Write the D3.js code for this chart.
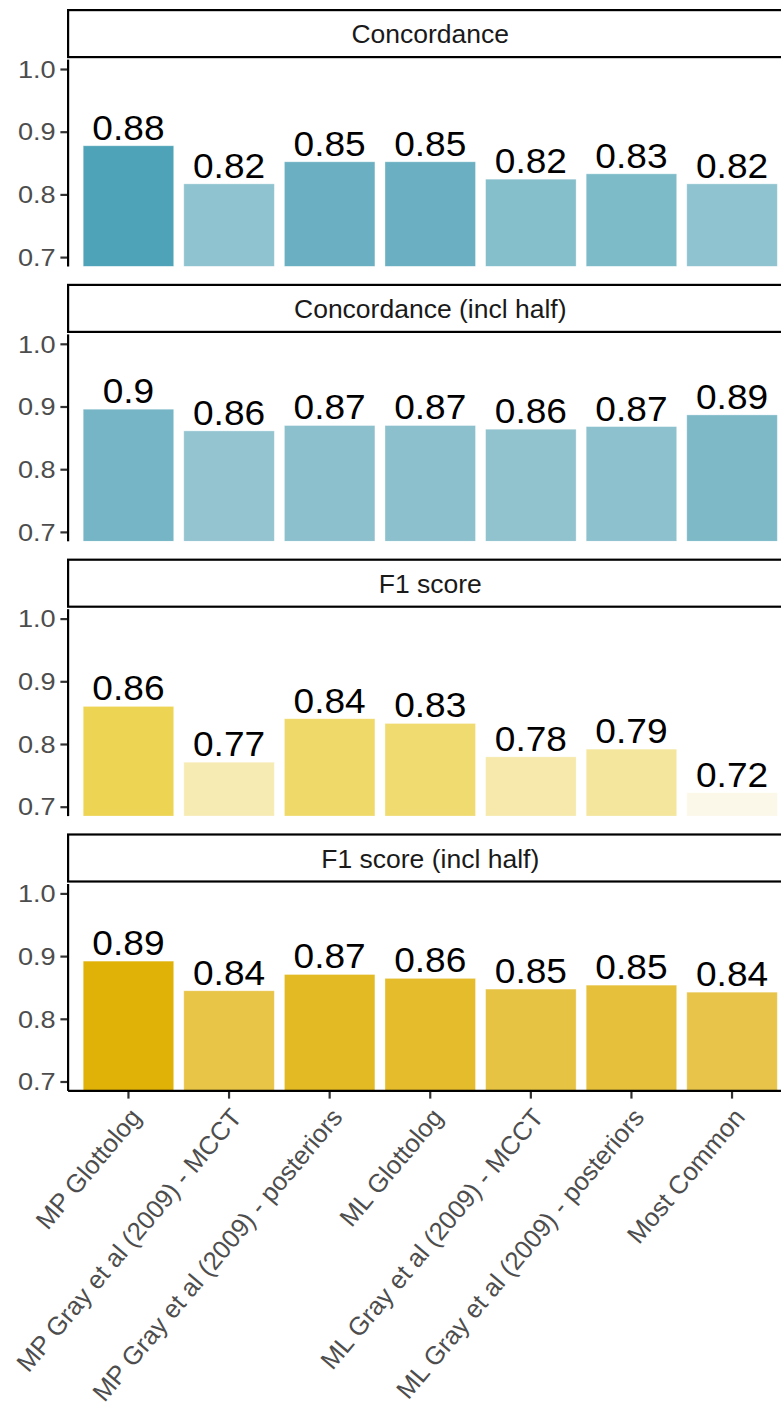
<!DOCTYPE html>
<html>
<head>
<meta charset="utf-8">
<script src="https://cdn.jsdelivr.net/npm/d3@7"></script>
<style>
  html, body { margin: 0; padding: 0; background: #fff; }
  svg { display: block; font-family: "Liberation Sans", Arial, Helvetica, sans-serif; }
</style>
</head>
<body>
<svg id="chart" width="781" height="1410"></svg>
<script>
// Methods compared (x axis)
const categories = [
  "MP Glottolog",
  "MP Gray et al (2009) - MCCT",
  "MP Gray et al (2009) - posteriors",
  "ML Glottolog",
  "ML Gray et al (2009) - MCCT",
  "ML Gray et al (2009) - posteriors",
  "Most Common"
];

// Facet titles
const metrics = ["Concordance", "Concordance (incl half)", "F1 score", "F1 score (incl half)"];

// Scores per method, one array per metric
const concordance     = [0.8776, 0.8168, 0.8520, 0.8520, 0.8243, 0.8328, 0.8168];
const concordanceHalf = [0.8957, 0.8611, 0.8697, 0.8697, 0.8638, 0.8680, 0.8866];
const f1Score         = [0.8600, 0.7710, 0.8403, 0.8328, 0.7795, 0.7918, 0.7224];
const f1ScoreHalf     = [0.8920, 0.8447, 0.8707, 0.8645, 0.8474, 0.8537, 0.8425];

const yTicks = [0.7, 0.8, 0.9, 1.0];
const yLimits = [0.7, 1.0];

const seriesByMetric = [concordance, concordanceHalf, f1Score, f1ScoreHalf];

// Fill ramps (low -> high score) for each facet
const fillRamps = [
  ["#8EC3CF", "#4FA3B8"],
  ["#93C4D0", "#76B5C5"],
  ["#FCF8E9", "#EDD453"],
  ["#E8C54A", "#E0B106"]
];

const svg = d3.select("#chart");

// Layout
const plotLeft = 68.1;
const plotRight = 792.4;
const firstPanelTop = 59.6;
const panelPitch = 274.8;
const panelHeight = 206.9;
const stripHeight = 47;
const stripGap = 2.5;
const lineW = 2.2;

// Discrete x scale: 0.9-wide bars with 0.6 units of padding at each end
const x = d3.scaleBand()
  .domain(categories)
  .range([plotLeft, plotRight])
  .paddingInner(0.1)
  .paddingOuter(0.15);

// Pad the y limits by 5% of their span, as the bars are clipped at the panel floor
const ySpan = yLimits[1] - yLimits[0];
const yDomain = [yLimits[0] - 0.05 * ySpan, yLimits[1] + 0.05 * ySpan];

const labelFmt = d3.format(".2~f");
const tickFmt = d3.format(".1f");

metrics.forEach((metric, i) => {
  const values = seriesByMetric[i];
  const top = firstPanelTop + i * panelPitch;
  const bottom = top + panelHeight;

  const y = d3.scaleLinear().domain(yDomain).range([bottom, top]);
  const color = d3.scaleLinear()
    .domain(d3.extent(values))
    .range(fillRamps[i])
    .interpolate(d3.interpolateRgb);

  const g = svg.append("g").attr("class", "panel");

  const clipId = "clip" + i;
  g.append("clipPath").attr("id", clipId)
    .append("rect")
    .attr("x", plotLeft).attr("y", top)
    .attr("width", plotRight - plotLeft).attr("height", panelHeight);

  // Bars
  g.append("g").attr("clip-path", `url(#${clipId})`)
    .selectAll("rect")
    .data(values)
    .join("rect")
    .attr("x", (d, j) => x(categories[j]))
    .attr("width", x.bandwidth())
    .attr("y", d => y(d))
    .attr("height", d => y(yDomain[0]) - y(d))
    .attr("fill", d => color(d))
    .attr("stroke", "#ffffff")
    .attr("stroke-opacity", 0.45)
    .attr("stroke-width", 0.8);

  // Value labels
  g.append("g")
    .selectAll("text")
    .data(values)
    .join("text")
    .attr("transform", (d, j) =>
      `translate(${x(categories[j]) + x.bandwidth() / 2},${y(d) - 6}) scale(1.06,1)`)
    .attr("text-anchor", "middle")
    .attr("font-size", 35)
    .attr("fill", "#000")
    .text(d => labelFmt(d));

  // Strip
  const stripBottom = top - stripGap;
  const stripTop = stripBottom - stripHeight;
  g.append("rect")
    .attr("x", plotLeft)
    .attr("y", stripTop)
    .attr("width", plotRight - plotLeft + 20)
    .attr("height", stripHeight)
    .attr("fill", "#fff")
    .attr("stroke", "#000")
    .attr("stroke-width", lineW);
  g.append("text")
    .attr("x", (plotLeft + plotRight) / 2)
    .attr("y", (stripTop + stripBottom) / 2)
    .attr("dy", "0.36em")
    .attr("text-anchor", "middle")
    .attr("font-size", 26.5)
    .attr("fill", "#1A1A1A")
    .text(metric);

  // Y axis
  const yAxis = d3.axisLeft(y)
    .tickValues(yTicks)
    .tickSize(7.7)
    .tickPadding(0)
    .tickFormat(tickFmt);
  const ya = g.append("g")
    .attr("transform", `translate(${plotLeft},0)`)
    .call(yAxis);
  ya.select(".domain").remove();
  ya.selectAll(".tick line").attr("stroke", "#333333").attr("stroke-width", lineW);
  ya.selectAll(".tick text")
    .attr("x", null)
    .attr("transform", "translate(-12.5,0) scale(1.18,1)")
    .attr("dy", "0.36em")
    .attr("text-anchor", "end")
    .attr("font-size", 23)
    .attr("font-family", "Liberation Sans, Arial, sans-serif")
    .attr("fill", "#4D4D4D");
  g.append("line")
    .attr("x1", plotLeft).attr("x2", plotLeft)
    .attr("y1", top).attr("y2", bottom)
    .attr("stroke", "#000").attr("stroke-width", lineW);

  // X axis on the bottom facet only
  if (i === metrics.length - 1) {
    const xAxis = d3.axisBottom(x).tickSize(7.7).tickPadding(0);
    const xa = g.append("g")
      .attr("transform", `translate(0,${bottom})`)
      .call(xAxis);
    xa.select(".domain").remove();
    xa.selectAll(".tick line").attr("stroke", "#333333").attr("stroke-width", lineW);
    xa.selectAll(".tick text")
      .attr("y", null).attr("dy", null)
      .attr("transform", "translate(14,27) rotate(-50)")
      .attr("text-anchor", "end")
      .attr("font-size", 25.6)
      .attr("font-family", "Liberation Sans, Arial, sans-serif")
      .attr("fill", "#4D4D4D");
    g.append("line")
      .attr("x1", plotLeft).attr("x2", plotRight)
      .attr("y1", bottom).attr("y2", bottom)
      .attr("stroke", "#000").attr("stroke-width", lineW);
  }
});
</script>
</body>
</html>
